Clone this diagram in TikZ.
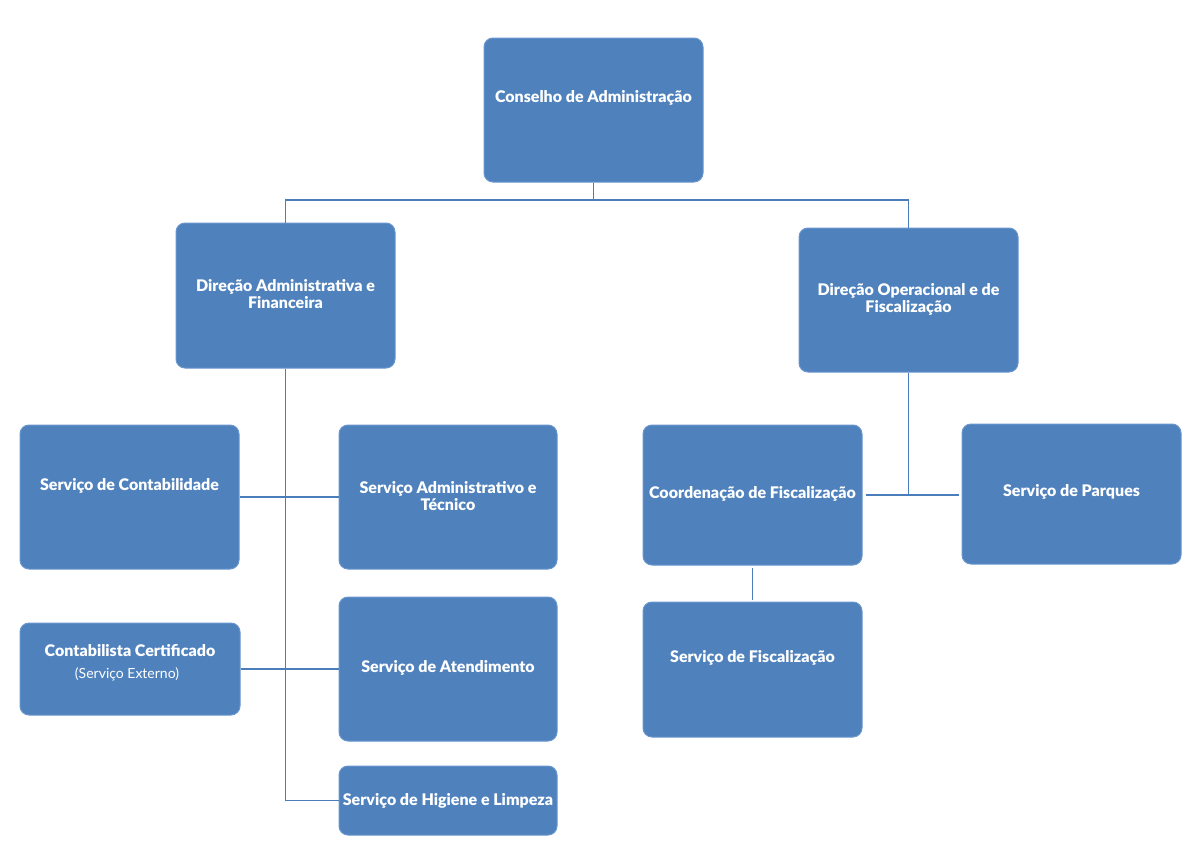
\documentclass[tikz,border=0pt]{standalone}
\usepackage{fontspec}
\setmainfont{Lato}
\newfontfamily\heavyfont{Lato}[UprightFont=* Black]
\definecolor{boxfill}{HTML}{4F81BD}
\definecolor{boxline}{HTML}{6A96CE}
\definecolor{conncol}{HTML}{4A7EBB}
\begin{document}
\begin{tikzpicture}[x=1pt,y=-1pt,
  box/.style={draw=boxline, line width=1pt, fill=boxfill, rounded corners=9pt, inner sep=0pt},
  lbl/.style={text=white, font=\fontsize{16}{17}\selectfont\heavyfont, align=center, inner sep=0pt},
  sub/.style={text=white, font=\fontsize{14}{15}\selectfont, inner sep=0pt},
  conn/.style={draw=conncol, line width=1.3pt}]
\useasboundingbox[fill=white] (0,0) rectangle (1200,865);
% boxes
\node[box, minimum width=219, minimum height=144] (ca) at (593.5,110) {};
\node[box, minimum width=219, minimum height=145] (daf) at (285.5,295.5) {};
\node[box, minimum width=219, minimum height=144] (dof) at (908.5,300) {};
\node[box, minimum width=219, minimum height=144] (sc) at (129.5,497) {};
\node[box, minimum width=218, minimum height=144] (sat) at (448,497) {};
\node[box, minimum width=219, minimum height=140] (cf) at (752.5,495) {};
\node[box, minimum width=219, minimum height=140] (sp) at (1071.5,494) {};
\node[box, minimum width=220, minimum height=92] (cc) at (130,669) {};
\node[box, minimum width=218, minimum height=144] (sa) at (448,669) {};
\node[box, minimum width=219, minimum height=135] (sf) at (752.5,669.5) {};
\node[box, minimum width=218, minimum height=69] (shl) at (448,800.5) {};
% labels
\node[lbl] (tca) at (593.5,98) {Conselho de Administração};
\node[lbl] (tdaf) at (285.5,294.5) {Direção Administrativa e\\Financeira};
\node[lbl] (tdof) at (908.5,299.5) {Direção Operacional e de\\Fiscalização};
\node[lbl] (tsc) at (129.5,486) {Serviço de Contabilidade};
\node[lbl] (tsat) at (448,496) {Serviço Administrativo e\\Técnico};
\node[lbl] (tcf) at (752.5,494) {Coordenação de Fiscalização};
\node[lbl] (tsp) at (1071.5,492) {Serviço de Parques};
\node[lbl] (tcc) at (130,651) {Contabilista Certificado};
\node[sub] (tcc2) at (127,674) {(Serviço Externo)};
\node[lbl] (tsa) at (448,668) {Serviço de Atendimento};
\node[lbl] (tsf) at (752.5,658) {Serviço de Fiscalização};
\node[lbl] (tshl) at (448,801) {Serviço de Higiene e Limpeza};
% connectors
\coordinate (j1) at (593.5,200);
\draw[conn] (ca.south) -- (j1) -| (daf.north);
\draw[conn] (j1) -| (dof.north);
\draw[conn] (daf.south) |- (shl.west);
\draw[conn] (sc.east) -- (sat.west);
\draw[conn] (cc.east) -- (sa.west);
\draw[conn] (dof.south) -- (dof.south |- cf.east);
\draw[conn, shorten <=3pt, shorten >=3pt] (cf.east) -- (cf.east -| sp.west);
\draw[conn, shorten <=2pt, shorten >=2pt] (cf.south) -- (sf.north);
\end{tikzpicture}
\end{document}
